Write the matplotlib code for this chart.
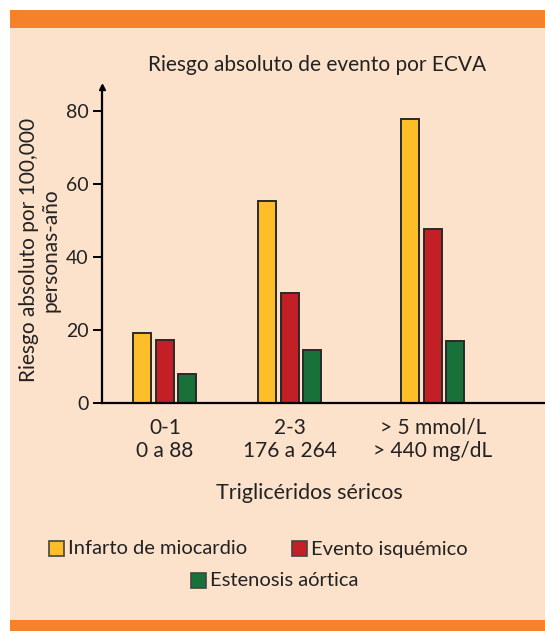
import numpy as np
import matplotlib
matplotlib.use("Agg")
import matplotlib.pyplot as plt
from matplotlib.patches import Rectangle

plt.rcParams['font.family'] = ['Lato', 'DejaVu Sans']

# data
groups_mmol = ["0-1", "2-3", "> 5 mmol/L"]
groups_mgdl = ["0 a 88", "176 a 264", "> 440 mg/dL"]
series_names = ["Infarto de miocardio", "Evento isquémico", "Estenosis aórtica"]
infarto = [19.0, 55.5, 77.9]
isquemico = [17.1, 30.1, 47.7]
estenosis = [7.7, 14.5, 16.8]
yticks = [0, 20, 40, 60, 80]

colors = ["#FDBE27", "#C21F26", "#177139"]
orange = "#F5812A"
peach = "#FCE1CB"
edge = "#2a2a2a"
txt = "#222222"

W, H = 545, 631
fig = plt.figure(figsize=(W / 100, H / 100), dpi=100)
fig.patch.set_facecolor("white")

def px_rect(x0, y0, x1, y1, color):
    # rectangle given in pixel coords, y from top
    fig.add_artist(Rectangle((x0 / W, 1 - y1 / H), (x1 - x0) / W, (y1 - y0) / H,
                             transform=fig.transFigure, facecolor=color,
                             edgecolor="none", zorder=0))

px_rect(10, 27.5, W, 620, peach)
px_rect(10, 10, W, 27.5, orange)
px_rect(10, 620, W, H, orange)

ax = fig.add_axes([102 / W, 1 - 402.5 / H, 1 - 102 / W, (402.5 - 87) / H])
ax.set_facecolor("none")

pos = np.array([0, 1, 2.144])
offsets = [-0.185, 0, 0.176]
width = 0.14
for vals, off, c, name in zip([infarto, isquemico, estenosis], offsets, colors, series_names):
    ax.bar(pos + off, vals, width, color=c, edgecolor=edge, linewidth=1.4, label=name)

ax.set_xlim(-0.504, 3.04)
ax.set_ylim(0, 86.7)
ax.set_yticks(yticks)
ax.set_yticklabels([str(v) for v in yticks], fontsize=14, color=txt)
ax.tick_params(axis="y", direction="out", length=6.5, width=1.4, pad=3)
ax.set_xticks(pos)
ax.set_xticklabels([a + "\n" + b for a, b in zip(groups_mmol, groups_mgdl)],
                   fontsize=15, color=txt, linespacing=1.2)
ax.tick_params(axis="x", length=0, pad=11)
for s in ["top", "right"]:
    ax.spines[s].set_visible(False)
for s in ["left", "bottom"]:
    ax.spines[s].set_linewidth(1.6)
    ax.spines[s].set_color("black")
ax.plot(0, 1, marker="^", color="black", markersize=5, transform=ax.transAxes,
        clip_on=False)

fig.text(317 / W, 1 - 65 / H, "Riesgo absoluto de evento por ECVA", fontsize=15,
         ha="center", va="center", color=txt)
fig.text(40 / W, 1 - 250 / H, "Riesgo absoluto por 100,000\npersonas-año", fontsize=15,
         rotation=90, ha="center", va="center", multialignment="center",
         linespacing=1.1, color=txt)
fig.text(309 / W, 1 - 493 / H, "Triglicéridos séricos", fontsize=15.5,
         ha="center", va="center", color=txt)

# legend drawn by hand: two on the first row, one centred below
legend_xy = [(49, 548), (292, 548), (191, 580)]
for (lx, ly), c, name in zip(legend_xy, colors, series_names):
    fig.add_artist(Rectangle((lx / W, 1 - (ly + 7.5) / H), 15 / W, 15 / H,
                             transform=fig.transFigure, facecolor=c,
                             edgecolor="#444444", linewidth=1.2))
    fig.text((lx + 19) / W, 1 - (ly + 1) / H, name, fontsize=14.5, ha="left",
             va="center", color=txt)

fig.savefig("out.png", dpi=100, facecolor=fig.get_facecolor())
